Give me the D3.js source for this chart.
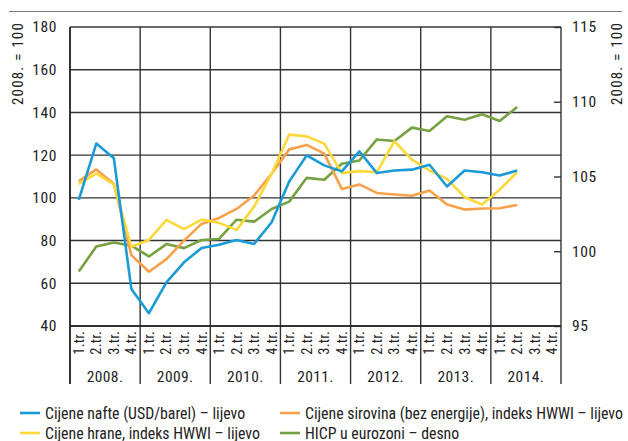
<!DOCTYPE html>
<html>
<head>
<meta charset="utf-8">
<script src="https://cdn.jsdelivr.net/npm/d3@7"></script>
<style>
  body { margin: 0; background: #fff; }
  text { font-family: "Roboto Condensed", "Liberation Sans Narrow", "Liberation Sans", Arial, sans-serif; fill: #222; }
</style>
</head>
<body>
<div id="chart"></div>
<script>
/********************************************************/
// Data (quarterly, 2008 Q1 - 2014 Q2)
const years = ["2008.", "2009.", "2010.", "2011.", "2012.", "2013.", "2014."];
const quarterLabels = ["1.tr.", "2.tr.", "3.tr.", "4.tr."];
const leftTicks = [40, 60, 80, 100, 120, 140, 160, 180];
const rightTicks = [95, 100, 105, 110, 115];

const oil = [99.1, 125.4, 118.6, 57.3, 46.0, 60.4, 69.8, 76.5, 78.0, 80.3, 78.4, 88.6,
  107.7, 119.9, 115.2, 112.4, 121.8, 111.6, 112.8, 113.2, 115.5, 105.3, 112.8, 112.0, 110.5, 112.8];
const rawMaterials = [107.8, 113.3, 106.6, 73.2, 65.4, 71.3, 80.0, 87.8, 90.6, 94.8, 101.1, 111.3,
  122.7, 124.8, 120.7, 104.2, 106.3, 102.3, 101.6, 101.0, 103.4, 96.9, 94.5, 95.0, 95.1, 96.7];
const food = [106.6, 111.3, 106.3, 77.1, 80.3, 89.7, 85.4, 89.8, 88.3, 85.0, 95.9, 111.3,
  129.6, 128.8, 125.4, 111.6, 112.5, 112.0, 126.5, 117.9, 112.8, 108.9, 100.3, 96.9, 103.8, 112.0];
const hicp = [98.64, 100.32, 100.59, 100.37, 99.65, 100.48, 100.21, 100.75, 100.82, 102.11, 101.98, 102.83,
  103.32, 104.91, 104.78, 105.85, 106.07, 107.48, 107.37, 108.27, 108.04, 109.03, 108.8, 109.16, 108.71, 109.65];

const seriesNames = [
  "Cijene nafte (USD/barel) – lijevo",
  "Cijene sirovina (bez energije), indeks HWWI – lijevo",
  "Cijene hrane, indeks HWWI – lijevo",
  "HICP u eurozoni – desno"
];
/********************************************************/
const svgWidth = 628;
const svgHeight = 441;
const plot = { left: 70, right: 561, top: 27, bottom: 326 };

const svg = d3.select("#chart").append("svg").attr("width", svgWidth).attr("height", svgHeight);

const quarters = [];
years.forEach((y, i) => quarterLabels.forEach((q, j) => quarters.push({ key: i * 4 + j, year: y, q: q })));

const x = d3.scaleBand().domain(quarters.map((d) => d.key)).range([plot.left, plot.right]).padding(0);
const yLeft = d3.scaleLinear().domain([40, 180]).range([plot.bottom, plot.top]);
const yRight = d3.scaleLinear().domain([95, 115]).range([plot.bottom, plot.top]);
const xc = (i) => x(i) + x.bandwidth() / 2;
const yearEdge = (i) => x(i * 4) !== undefined ? x(i * 4) : plot.right;

// top rule
svg.append("line").attr("x1", 9).attr("x2", 622).attr("y1", 11.5).attr("y2", 11.5)
  .attr("stroke", "#777").attr("stroke-width", 1.2);

// horizontal grid
svg.append("g").selectAll("line").data(leftTicks).enter().append("line")
  .attr("x1", plot.left).attr("x2", plot.right)
  .attr("y1", (d) => yLeft(d)).attr("y2", (d) => yLeft(d))
  .attr("stroke", "#333").attr("stroke-width", 1.4);

// vertical year lines (extend below for the category labels)
svg.append("g").selectAll("line").data(d3.range(years.length + 1)).enter().append("line")
  .attr("x1", (d) => yearEdge(d)).attr("x2", (d) => yearEdge(d))
  .attr("y1", plot.top).attr("y2", 384)
  .attr("stroke", "#333").attr("stroke-width", 1.4);

// left axis labels
const leftAxis = d3.axisLeft(yLeft).tickValues(leftTicks).tickSize(0).tickPadding(13);
const gl = svg.append("g").attr("transform", `translate(${plot.left},0)`).call(leftAxis);
gl.select(".domain").remove();
gl.selectAll("text").attr("font-size", 15.5).attr("font-family", null).attr("letter-spacing", 0.6);

// right axis
const rightAxis = d3.axisRight(yRight).tickValues(rightTicks).tickSizeInner(-7).tickSizeOuter(0).tickPadding(11);
const gr = svg.append("g").attr("transform", `translate(${plot.right},0)`).call(rightAxis);
gr.select(".domain").remove();
gr.selectAll("line").attr("stroke", "#333").attr("stroke-width", 1.4);
gr.selectAll("text").attr("font-size", 15.5).attr("font-family", null).attr("letter-spacing", 0.6);

// axis titles
svg.append("text").attr("transform", "translate(23,22) rotate(-90)")
  .attr("text-anchor", "end").attr("font-size", 15).attr("letter-spacing", 1.2).text("2008. = 100");
svg.append("text").attr("transform", "translate(622,22) rotate(-90)")
  .attr("text-anchor", "end").attr("font-size", 15).attr("letter-spacing", 1.2).text("2008. = 100");

// quarter labels
svg.append("g").selectAll("text").data(quarters).enter().append("text")
  .attr("transform", (d) => `translate(${xc(d.key) + 5},${plot.bottom + 5}) rotate(-90)`)
  .attr("text-anchor", "end").attr("font-size", 14.5).attr("letter-spacing", 0.2).text((d) => d.q);

// year labels
svg.append("g").selectAll("text").data(years).enter().append("text")
  .attr("x", (d, i) => (yearEdge(i) + yearEdge(i + 1)) / 2).attr("y", 382)
  .attr("text-anchor", "middle").attr("font-size", 15.5).attr("letter-spacing", 0.4).text((d) => d);

// lines
const lineLeft = d3.line().x((d, i) => xc(i)).y((d) => yLeft(d));
const lineRight = d3.line().x((d, i) => xc(i)).y((d) => yRight(d));
const series = [
  { values: hicp, line: lineRight, color: "#76a142" },
  { values: rawMaterials, line: lineLeft, color: "#f8a14a" },
  { values: food, line: lineLeft, color: "#fdd83b" },
  { values: oil, line: lineLeft, color: "#1a9bd7" }
];
svg.append("g").selectAll("path").data(series).enter().append("path")
  .attr("d", (d) => d.line(d.values))
  .attr("fill", "none").attr("stroke", (d) => d.color).attr("stroke-width", 2.6)
  .attr("stroke-linejoin", "round");

// left and bottom border on top
svg.append("line").attr("x1", plot.left).attr("x2", plot.left).attr("y1", plot.top).attr("y2", 384)
  .attr("stroke", "#222").attr("stroke-width", 1.5);
svg.append("line").attr("x1", plot.left).attr("x2", plot.right).attr("y1", plot.bottom).attr("y2", plot.bottom)
  .attr("stroke", "#222").attr("stroke-width", 1.5);

// legend
const legendItems = [
  { name: seriesNames[0], color: "#1a9bd7", x: 20, y: 413 },
  { name: seriesNames[1], color: "#f8a14a", x: 280, y: 413 },
  { name: seriesNames[2], color: "#fdd83b", x: 20, y: 433 },
  { name: seriesNames[3], color: "#76a142", x: 280, y: 433 }
];
const lg = svg.append("g").selectAll("g").data(legendItems).enter().append("g")
  .attr("transform", (d) => `translate(${d.x},${d.y})`);
lg.append("line").attr("x1", 0).attr("x2", 20).attr("y1", 0).attr("y2", 0)
  .attr("stroke", (d) => d.color).attr("stroke-width", 2.6);
lg.append("text").attr("x", 25).attr("y", 5.5).attr("font-size", 15.8).text((d) => d.name);
</script>
</body>
</html>
